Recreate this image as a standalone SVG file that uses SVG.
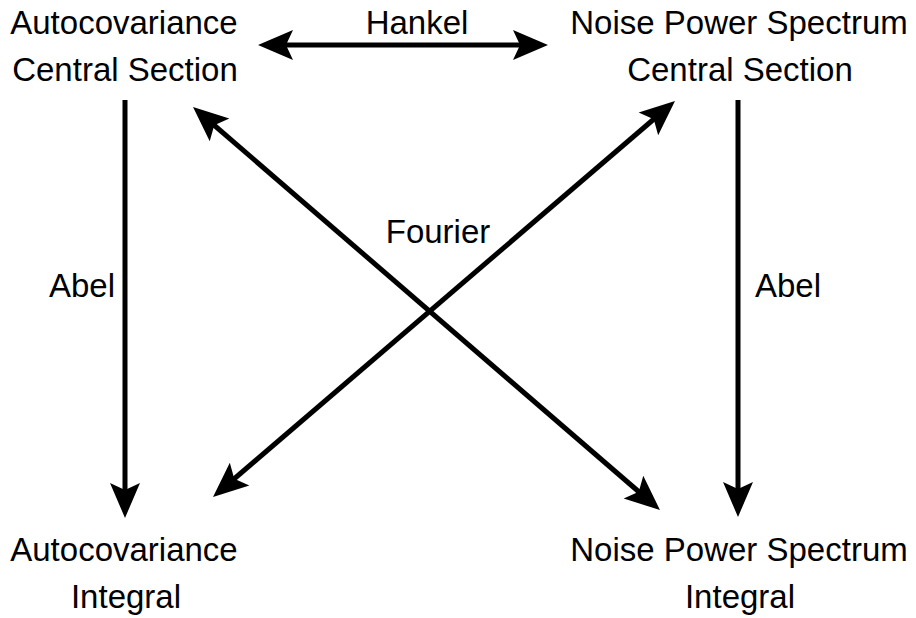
<svg xmlns="http://www.w3.org/2000/svg" width="916" height="618" viewBox="0 0 916 618">
<style>
text{font-family:"Liberation Sans",Arial,sans-serif;font-size:33px;fill:#000;text-anchor:middle}
.c{stroke:#000;stroke-width:5;fill:none}
</style>
<defs>
<marker id="ah" markerUnits="userSpaceOnUse" markerWidth="50" markerHeight="50" viewBox="-30 -25 50 50" refX="0" refY="0" orient="auto-start-reverse">
<path d="M10,0 L-25,-15 L-18,0 L-25,15 Z" fill="#000"/>
</marker>
</defs>
<rect width="916" height="618" fill="#fff"/>
<g id="connectors">
<line class="c" x1="268" y1="45" x2="538" y2="45" marker-start="url(#ah)" marker-end="url(#ah)"/>
<line class="c" x1="125" y1="100" x2="125" y2="508" marker-end="url(#ah)"/>
<line class="c" x1="738" y1="100" x2="738" y2="507" marker-end="url(#ah)"/>
<line class="c" x1="200.6" y1="113.5" x2="652.4" y2="503.5" marker-start="url(#ah)" marker-end="url(#ah)"/>
<line class="c" x1="667.4" y1="107.5" x2="220.6" y2="490.5" marker-start="url(#ah)" marker-end="url(#ah)"/>
<text x="417" y="34">Hankel</text>
<text x="438" y="243">Fourier</text>
<text x="82" y="297">Abel</text>
<text x="788" y="297">Abel</text>
</g>
<g id="acs"><text x="124" y="34">Autocovariance</text><text x="125" y="81">Central Section</text></g>
<g id="npscs"><text x="739" y="34">Noise Power Spectrum</text><text x="740" y="81">Central Section</text></g>
<g id="ai"><text x="124" y="561">Autocovariance</text><text x="126" y="608">Integral</text></g>
<g id="npsi"><text x="739" y="561">Noise Power Spectrum</text><text x="740" y="608">Integral</text></g>
</svg>
